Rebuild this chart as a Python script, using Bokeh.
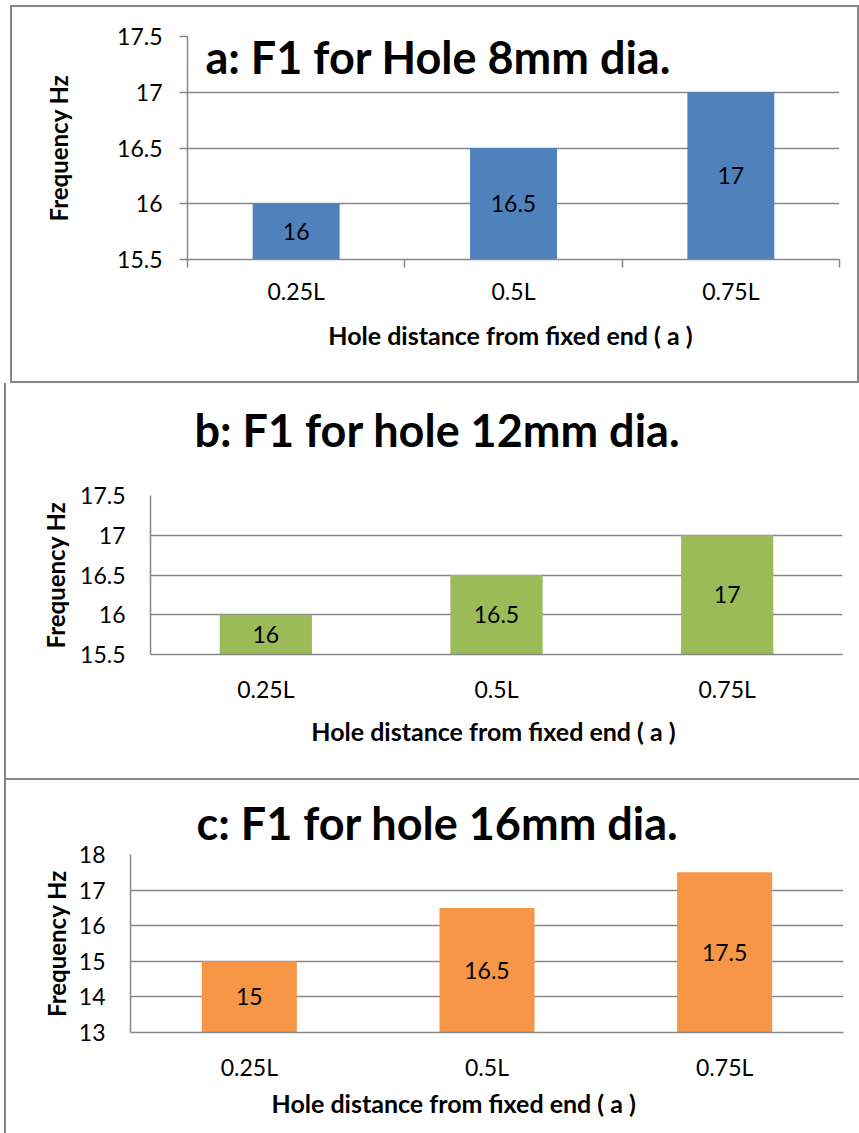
import numpy as np
from bokeh.plotting import figure
from bokeh.models import FixedTicker, Label, LabelSet, ColumnDataSource, Range1d, Title
from bokeh.core.properties import value
from bokeh.layouts import column
from bokeh.embed import file_html
from bokeh.resources import INLINE

# ---------------- data ----------------
categories = ["0.25L", "0.5L", "0.75L"]
freq_a = [16, 16.5, 17]
freq_b = [16, 16.5, 17]
freq_c = [15, 16.5, 17.5]
yticks_a = [15.5, 16, 16.5, 17, 17.5]
yticks_b = [15.5, 16, 16.5, 17, 17.5]
yticks_c = [13, 14, 15, 16, 17, 18]
titles = ["a:  F1 for Hole 8mm dia.", "b:  F1 for hole 12mm dia.", "c:  F1 for hole 16mm dia."]
x_title = "Hole distance from fixed end  ( a )"
y_title = "Frequency Hz"
colors = ["#4F81BD", "#9BBB59", "#F79646"]

FONT = "Lato"
GRAY = "#878787"
BORDER = "#868686"

panels = [
    dict(vals=freq_a, yticks=yticks_a, color=colors[0], title=titles[0],
         margin=(5, 0, 0, 10), w=849, h=378, mbl=177, mbr=20, mbt=31, mbb=124, ticks=True,
         shadow=f"inset 2px 0 0 {BORDER}, inset -2px 0 0 {BORDER}, inset 0 2px 0 {BORDER}, inset 0 -2px 0 {BORDER}",
         ylab_standoff=41, xlab_standoff=12, xtick_standoff=9, title_inside=(18, 20)),
    dict(vals=freq_b, yticks=yticks_b, color=colors[1], title=titles[1],
         margin=(0, 0, 0, 4), w=855, h=395, mbl=146, mbr=17, mbt=112, mbb=124, ticks=False,
         shadow=f"inset 2px 0 0 {BORDER}",
         ylab_standoff=7, xlab_standoff=10, xtick_standoff=20, title_offset=44, title_standoff=10,
         title_gap=31),
    dict(vals=freq_c, yticks=yticks_c, color=colors[2], title=titles[2],
         margin=(0, 0, 0, 4), w=855, h=355, mbl=126, mbr=16, mbt=76, mbb=101, ticks=False,
         shadow=f"inset 2px 0 0 {BORDER}, inset 0 2px 0 {BORDER}",
         ylab_standoff=5, xlab_standoff=5, xtick_standoff=20, title_offset=66, title_standoff=9,
         xtitle_below_offset=141),
]


def make_panel(cfg):
    yt = cfg["yticks"]
    n = len(categories)
    xs = np.arange(n) + 0.5
    base = yt[0]
    vals = np.array(cfg["vals"], dtype=float)
    src = ColumnDataSource(dict(x=xs, top=vals, mid=(vals + base) / 2.0,
                                label=[f"{v:g}" for v in vals]))
    p = figure(width=cfg["w"], height=cfg["h"], output_backend="svg", toolbar_location=None,
               x_range=Range1d(0, n), y_range=Range1d(yt[0], yt[-1]),
               min_border_left=cfg["mbl"], min_border_right=cfg["mbr"],
               min_border_top=cfg["mbt"], min_border_bottom=cfg["mbb"])
    p.frame_align = False
    p.margin = cfg["margin"]
    p.border_fill_color = None
    p.background_fill_color = "white"
    p.outline_line_color = None
    p.styles = {"box-shadow": cfg["shadow"]}

    p.vbar(x="x", top="top", bottom=base, width=0.4, source=src,
           fill_color=cfg["color"], line_color=None)
    p.add_layout(LabelSet(x="x", y="mid", text="label", source=src,
                          text_align="center", text_baseline="middle",
                          text_font=value(FONT), text_font_size=value("23px"),
                          text_color="black"))

    # x axis
    xa = p.xaxis[0]
    xa.ticker = FixedTicker(ticks=list(xs), minor_ticks=list(range(n + 1)) if cfg["ticks"] else [])
    xa.major_label_overrides = {float(x): c for x, c in zip(xs, categories)}
    xa.major_tick_out = 0
    xa.major_tick_in = 0
    xa.minor_tick_out = 8 if cfg["ticks"] else 0
    xa.minor_tick_in = 0
    xa.minor_tick_line_color = GRAY
    xa.minor_tick_line_width = 1.5
    xa.axis_line_color = GRAY
    xa.axis_line_width = 1.5
    xa.major_label_text_font = FONT
    xa.major_label_text_font_size = "23px"
    xa.major_label_text_color = "black"
    xa.major_label_standoff = cfg["xtick_standoff"]
    if "xtitle_below_offset" in cfg:
        # axis title sits left of centre in this panel
        p.add_layout(Title(text=x_title, align="left", offset=cfg["xtitle_below_offset"],
                           standoff=cfg["xlab_standoff"], text_font=FONT,
                           text_font_style="bold", text_font_size="25px",
                           text_color="black"), "below")
    else:
        xa.axis_label = x_title
        xa.axis_label_text_font = FONT
        xa.axis_label_text_font_style = "bold"
        xa.axis_label_text_font_size = "25px"
        xa.axis_label_text_color = "black"
        xa.axis_label_standoff = cfg["xlab_standoff"]

    # y axis
    ya = p.yaxis[0]
    ya.ticker = FixedTicker(ticks=yt, minor_ticks=[])
    ya.major_label_overrides = {float(t): f"{t:g}" for t in yt}
    ya.major_tick_out = 8 if cfg["ticks"] else 0
    ya.major_tick_in = 0
    ya.major_tick_line_color = GRAY
    ya.major_tick_line_width = 1.5
    ya.axis_line_color = GRAY
    ya.axis_line_width = 1.5
    ya.major_label_text_font = FONT
    ya.major_label_text_font_size = "23px"
    ya.major_label_text_color = "black"
    ya.major_label_standoff = 25 - ya.major_tick_out
    ya.axis_label = y_title
    ya.axis_label_text_font = FONT
    ya.axis_label_text_font_style = "bold"
    ya.axis_label_text_font_size = "24px"
    ya.axis_label_text_color = "black"
    ya.axis_label_standoff = cfg["ylab_standoff"]

    p.xgrid.visible = False
    p.ygrid.ticker = FixedTicker(ticks=yt, minor_ticks=[])
    p.ygrid.grid_line_color = GRAY
    p.ygrid.grid_line_width = 1.5

    if "title_inside" in cfg:
        # title drawn inside the plot area, offsets in px from the frame's top-left
        fw = cfg["w"] - cfg["mbl"] - cfg["mbr"]
        fh = cfg["h"] - cfg["mbt"] - cfg["mbb"]
        dx, dy = cfg["title_inside"]
        p.add_layout(Label(x=dx / fw * n, y=yt[-1] - dy / fh * (yt[-1] - yt[0]),
                           text=cfg["title"], text_font=FONT, text_font_style="bold",
                           text_font_size="45px", text_color="black",
                           text_align="left", text_baseline="alphabetic"))
    else:
        if cfg.get("title_gap"):
            # empty spacer between the plot area and the title
            p.add_layout(Title(text=" ", text_font_size="1px", standoff=cfg["title_gap"]), "above")
        p.title.text = cfg["title"]
        p.title.align = "left"
        p.title.offset = cfg["title_offset"]
        p.title.standoff = cfg["title_standoff"]
        p.title.text_font = FONT
        p.title.text_font_style = "bold"
        p.title.text_font_size = "45px"
        p.title.text_color = "black"
    return p


figs = [make_panel(c) for c in panels]
layout = column(*figs, spacing=0)

open("out.html", "w").write(file_html(layout, INLINE))
